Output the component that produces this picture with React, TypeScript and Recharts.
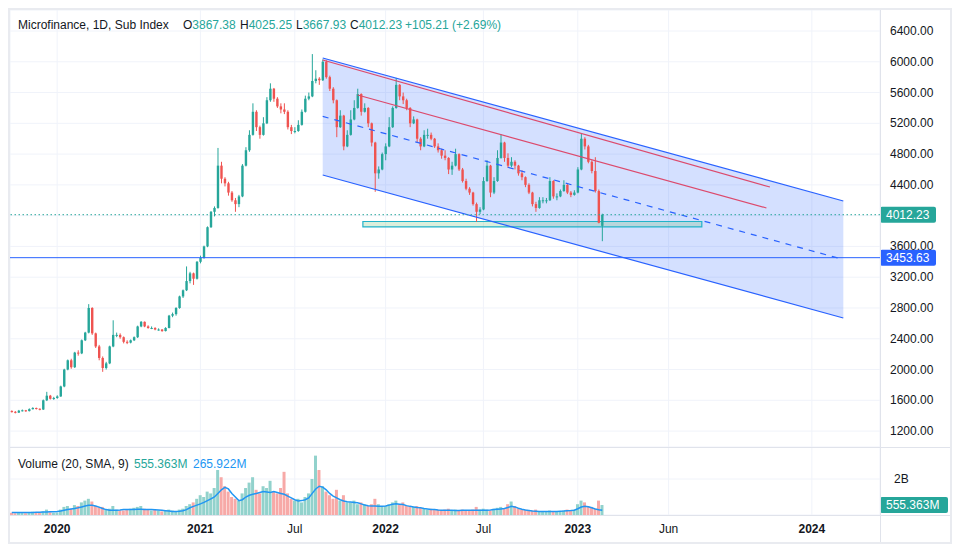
import React from 'react';
import {
  ComposedChart,
  Bar,
  Line,
  Area,
  XAxis,
  YAxis,
  CartesianGrid,
  ReferenceLine,
  ReferenceArea,
  Cell,
} from 'recharts';

const FONT = '"Liberation Sans", Arial, sans-serif';
const TEXT = '#131722';
const UP = '#26a69a';
const DOWN = '#ef5350';
const UP_VOL = '#92d2cc';
const DOWN_VOL = '#f7a9a7';
const GRID = '#f0f3fa';
const BLUE = '#2962ff';
const PINK = '#dc4a6d';

// one candle ~ 4 sessions: [open, high, low, close]
const candles: [number, number, number, number][] = [
  [1460, 1470, 1440, 1450], [1450, 1460, 1430, 1440], [1440, 1475, 1435, 1465], [1465, 1480, 1455, 1470], [1470, 1475, 1450, 1460],
  [1460, 1495, 1455, 1485], [1485, 1510, 1480, 1500], [1500, 1505, 1480, 1490], [1490, 1495, 1470, 1480], [1480, 1610, 1475, 1600],
  // 10
  [1600, 1710, 1590, 1660], [1660, 1670, 1610, 1620], [1620, 1645, 1605, 1630], [1630, 1665, 1620, 1650], [1650, 1790, 1645, 1780],
  [1780, 2010, 1770, 2000], [2000, 2130, 1990, 2120], [2120, 2140, 2010, 2030], [2030, 2230, 2020, 2220], [2220, 2250, 2180, 2210],
  // 20
  [2210, 2390, 2200, 2380], [2380, 2490, 2370, 2480], [2480, 2850, 2470, 2800], [2800, 2810, 2450, 2470], [2470, 2480, 2280, 2300],
  [2300, 2320, 2120, 2150], [2150, 2170, 1970, 2020], [2020, 2100, 2000, 2080], [2080, 2310, 2070, 2300], [2300, 2640, 2290, 2450],
  // 30
  [2450, 2480, 2420, 2450], [2450, 2470, 2400, 2420], [2420, 2430, 2340, 2360], [2360, 2380, 2330, 2350], [2350, 2390, 2340, 2380],
  [2380, 2430, 2370, 2420], [2420, 2570, 2410, 2560], [2560, 2630, 2550, 2620], [2620, 2625, 2550, 2560], [2560, 2575, 2530, 2540],
  // 40
  [2540, 2560, 2525, 2540], [2540, 2550, 2510, 2520], [2520, 2535, 2505, 2520], [2520, 2525, 2490, 2500], [2500, 2550, 2495, 2540],
  [2540, 2710, 2535, 2700], [2700, 2740, 2680, 2720], [2720, 2810, 2700, 2800], [2800, 2960, 2790, 2950], [2950, 3040, 2930, 3030],
  // 50
  [3030, 3340, 3020, 3150], [3150, 3270, 3120, 3250], [3250, 3260, 3100, 3180], [3180, 3410, 3170, 3400], [3400, 3480, 3380, 3450],
  [3450, 3610, 3440, 3600], [3600, 3860, 3590, 3850], [3850, 4060, 3840, 4050], [4050, 4120, 3990, 4100], [4100, 4880, 4090, 4650],
  // 60
  [4650, 4700, 4420, 4480], [4480, 4500, 4380, 4420], [4420, 4440, 4260, 4300], [4300, 4320, 4180, 4200], [4200, 4230, 4050, 4150],
  [4150, 4270, 4110, 4250], [4250, 4670, 4240, 4650], [4650, 4890, 4640, 4850], [4850, 5110, 4830, 5050], [5050, 5460, 5040, 5350],
  // 70
  [5350, 5370, 5100, 5150], [5150, 5170, 5000, 5050], [5050, 5280, 5040, 5200], [5200, 5540, 5190, 5500], [5500, 5720, 5480, 5650],
  [5650, 5660, 5480, 5520], [5520, 5540, 5400, 5420], [5420, 5460, 5330, 5380], [5380, 5460, 5320, 5350], [5350, 5370, 5120, 5150],
  // 80
  [5150, 5180, 5060, 5100], [5100, 5150, 5070, 5100], [5100, 5240, 5090, 5180], [5180, 5380, 5170, 5350], [5350, 5560, 5340, 5520],
  [5520, 5600, 5500, 5550], [5550, 6100, 5540, 5750], [5750, 5890, 5720, 5780], [5780, 5800, 5700, 5760], [5760, 6030, 5750, 6000],
  // 90
  [6000, 6020, 5780, 5800], [5800, 5820, 5620, 5650], [5650, 5670, 5460, 5500], [5500, 5510, 5020, 5150], [5150, 5370, 5140, 5300],
  [5300, 5310, 4850, 4900], [4900, 5110, 4890, 5050], [5050, 5370, 5040, 5250], [5250, 5500, 5240, 5400], [5400, 5650, 5390, 5580],
  // 100
  [5580, 5590, 5300, 5350], [5350, 5460, 5340, 5400], [5400, 5410, 5150, 5200], [5200, 5210, 4900, 4950], [4950, 4960, 4310, 4550],
  [4550, 4640, 4480, 4600], [4600, 4820, 4590, 4800], [4800, 4940, 4720, 4900], [4900, 5280, 4890, 5150], [5150, 5420, 5140, 5400],
  // 110
  [5400, 5790, 5390, 5700], [5700, 5710, 5500, 5550], [5550, 5600, 5450, 5500], [5500, 5520, 5370, 5400], [5400, 5410, 5150, 5200],
  [5200, 5290, 5190, 5250], [5250, 5260, 4950, 5000], [5000, 5020, 4850, 4900], [4900, 5110, 4890, 5050], [5050, 5130, 5000, 5050],
  // 120
  [5050, 5080, 4980, 5000], [5000, 5010, 4880, 4900], [4900, 4940, 4820, 4850], [4850, 4870, 4740, 4780], [4780, 4850, 4720, 4750],
  [4750, 4760, 4540, 4600], [4600, 4700, 4530, 4650], [4650, 4870, 4640, 4800], [4800, 4810, 4580, 4600], [4600, 4620, 4430, 4450],
  // 130
  [4450, 4480, 4330, 4350], [4350, 4370, 4270, 4300], [4300, 4310, 4130, 4150], [4150, 4170, 3920, 4050], [4050, 4110, 4020, 4080],
  [4080, 4500, 4070, 4450], [4450, 4720, 4440, 4650], [4650, 4660, 4240, 4300], [4300, 4500, 4280, 4450], [4450, 4850, 4440, 4750],
  // 140
  [4750, 5060, 4740, 4950], [4950, 4960, 4700, 4750], [4750, 4810, 4620, 4650], [4650, 4760, 4630, 4700], [4700, 4720, 4600, 4650],
  [4650, 4660, 4520, 4550], [4550, 4590, 4460, 4500], [4500, 4510, 4370, 4400], [4400, 4420, 4280, 4300], [4300, 4310, 4120, 4150],
  // 150
  [4150, 4180, 4050, 4100], [4100, 4240, 4090, 4200], [4200, 4240, 4160, 4200], [4200, 4230, 4160, 4200], [4200, 4500, 4190, 4450],
  [4450, 4460, 4220, 4250], [4250, 4290, 4200, 4250], [4250, 4340, 4240, 4320], [4320, 4460, 4310, 4400], [4400, 4410, 4280, 4300],
  // 160
  [4300, 4320, 4240, 4270], [4270, 4330, 4260, 4300], [4300, 4630, 4290, 4600], [4600, 5070, 4590, 5000], [5000, 5020, 4860, 4900],
  [4900, 4920, 4680, 4700], [4700, 4720, 4550, 4580], [4580, 4760, 4300, 4320], [4320, 4340, 3900, 3907.02], [3867.38, 4025.25, 3667.93, 4012.23],
];

// volume per candle, billions
const volumes = [
  0.12, 0.1, 0.15, 0.12, 0.1, 0.14, 0.18, 0.12, 0.11, 0.2,
  0.3, 0.15, 0.12, 0.14, 0.3, 0.45, 0.5, 0.35, 0.55, 0.5,
  0.7, 0.8, 0.9, 0.75, 0.5, 0.45, 0.45, 0.3, 0.35, 0.5,
  0.3, 0.25, 0.25, 0.3, 0.35, 0.4, 0.45, 0.5, 0.35, 0.3,
  0.25, 0.3, 0.25, 0.2, 0.25, 0.3, 0.25, 0.2, 0.3, 0.35,
  0.5, 0.6, 0.7, 0.9, 1.1, 1.0, 1.3, 1.2, 1.5, 2.5,
  2.1, 1.6, 1.3, 1.0, 0.9, 0.8, 1.2, 1.5, 1.8, 2.1,
  1.4, 1.2, 1.6, 1.5, 1.9, 1.3, 1.2, 1.5, 2.4, 1.2,
  0.9, 0.8, 0.9, 0.7, 1.0, 1.2, 2.0, 3.3, 2.5, 1.6,
  1.3, 1.1, 0.9, 1.4, 0.8, 1.1, 0.7, 0.7, 0.8, 0.6,
  0.7, 0.6, 0.5, 0.6, 0.9, 0.6, 0.5, 0.5, 0.6, 0.7,
  0.8, 0.6, 0.7, 0.5, 0.5, 0.45, 0.5, 0.4, 0.35, 0.3,
  0.35, 0.3, 0.3, 0.28, 0.3, 0.35, 0.25, 0.3, 0.25, 0.3,
  0.28, 0.25, 0.3, 0.45, 0.3, 0.35, 0.3, 0.25, 0.35, 0.4,
  0.45, 0.35, 0.6, 0.75, 0.5, 0.35, 0.3, 0.3, 0.25, 0.25,
  0.3, 0.2, 0.18, 0.2, 0.25, 0.2, 0.18, 0.2, 0.25, 0.3,
  0.25, 0.3, 0.6, 0.8, 0.7, 0.5, 0.45, 0.35, 0.8, 0.555,
];

// SMA(20) of volume, billions
const volumeSma = [
  0.14, 0.14, 0.14, 0.14, 0.14, 0.14, 0.14, 0.15, 0.15, 0.16,
  0.17, 0.18, 0.18, 0.19, 0.22, 0.26, 0.3, 0.33, 0.36, 0.4,
  0.45, 0.5, 0.54, 0.54, 0.5, 0.44, 0.36, 0.3, 0.27, 0.26,
  0.27, 0.28, 0.3, 0.3, 0.31, 0.31, 0.32, 0.32, 0.31, 0.3,
  0.3, 0.29, 0.28, 0.26, 0.24, 0.22, 0.2, 0.2, 0.21, 0.24,
  0.3, 0.4, 0.48, 0.55, 0.62, 0.7, 0.8, 0.9, 1.0, 1.2,
  1.4, 1.54, 1.45, 1.2, 1.0, 0.8, 0.85, 1.0, 1.1, 1.15,
  1.2, 1.25, 1.3, 1.28, 1.25, 1.3, 1.25, 1.2, 1.15, 1.05,
  0.95, 0.85, 0.78, 0.8, 0.85, 0.95, 1.2, 1.45, 1.6, 1.55,
  1.4, 1.2, 1.05, 0.95, 0.85, 0.78, 0.74, 0.72, 0.7, 0.68,
  0.62, 0.56, 0.52, 0.5, 0.5, 0.48, 0.48, 0.5, 0.55, 0.6,
  0.62, 0.6, 0.58, 0.52, 0.48, 0.45, 0.42, 0.4, 0.36, 0.33,
  0.3, 0.3, 0.28, 0.27, 0.26, 0.26, 0.26, 0.25, 0.25, 0.26,
  0.26, 0.26, 0.27, 0.27, 0.26, 0.26, 0.27, 0.28, 0.3, 0.32,
  0.34, 0.36, 0.42, 0.48, 0.45, 0.38, 0.32, 0.28, 0.25, 0.22,
  0.21, 0.2, 0.2, 0.2, 0.2, 0.2, 0.2, 0.21, 0.22, 0.24,
  0.25, 0.27, 0.35, 0.44, 0.48, 0.46, 0.4, 0.33, 0.29, 0.266,
];

// time scale: candle slots incl. empty future space
const SLOTS = 249;
const timeTicks = [13, 54, 81, 107, 135, 162, 188, 229];
const timeLabels = ['2020', '2021', 'Jul', '2022', 'Jul', '2023', 'Jun', '2024'];
const yearLabels = ['2020', '2021', '2022', '2023', '2024'];

const priceTicks = [1200, 1600, 2000, 2400, 2800, 3200, 3600, 4000, 4400, 4800, 5200, 5600, 6000, 6400];
const priceDomain = [993, 6673];
const volumeTicks = [2e9];
const volumeDomain = [0, 3.78e9];

// drawings
const channelX = [89, 238];
const channelUpper = [6049, 4190];
const channelLower = [4528, 2670];
const channelMid = [5290, 3430];
const redUpperX = [89, 217];
const redUpper = [6023, 4372];
const redLowerX = [99, 216];
const redLower = [5568, 4100];
const zoneX = [101, 197];
const zoneY = [3853, 3924];
const lastPrice = 4012.23;
const hLine = 3453.63;
const lastVolume = 555.363e6;

const rows = Array.from({ length: SLOTS }, (_, i) => {
  const row: any = { i };
  const k = candles[i];
  if (k) {
    row.o = k[0];
    row.h = k[1];
    row.l = k[2];
    row.c = k[3];
    row.vol = volumes[i] * 1e9;
    row.sma = volumeSma[i] * 1e9;
  }
  const ci = channelX.indexOf(i);
  if (ci >= 0) row.chan = [channelLower[ci], channelUpper[ci]];
  return row;
});

const Candle = (props: any) => {
  const { x, y, width, height, payload } = props;
  if (!payload || payload.o == null) return null;
  const { o, h, l, c } = payload;
  const top = Math.min(y, y + height);
  const bot = Math.max(y, y + height);
  const span = h - l || 1;
  const py = (v: number) => top + ((h - v) / span) * (bot - top);
  const cx = x + width / 2;
  const color = c >= o ? UP : DOWN;
  const b1 = py(Math.max(o, c));
  const b2 = py(Math.min(o, c));
  return (
    <g>
      <line x1={cx} x2={cx} y1={top} y2={bot} stroke={color} strokeWidth={1} />
      <rect x={cx - 1.2} y={b1} width={2.4} height={Math.max(1, b2 - b1)} fill={color} />
    </g>
  );
};

const PriceTick = ({ y, payload }: any) => {
  if (payload.value === 4000) return null;
  return (
    <text x={880} y={y} dy={4} fill={TEXT} fontSize={12} fontFamily={FONT}>
      {payload.value.toFixed(2)}
    </text>
  );
};

const VolumeTick = ({ y }: any) => (
  <text x={884} y={y} dy={4} fill={TEXT} fontSize={12} fontFamily={FONT}>
    2B
  </text>
);

const TimeTick = ({ x, payload }: any) => {
  const label = timeLabels[timeTicks.indexOf(payload.value)];
  return (
    <text
      x={x}
      y={86}
      textAnchor="middle"
      fill={TEXT}
      fontSize={12}
      fontWeight={yearLabels.includes(label) ? 700 : 400}
      fontFamily={FONT}
    >
      {label}
    </text>
  );
};

const Badge = (props: any) => {
  const { viewBox, text, color, w = 56 } = props;
  if (!viewBox) return null;
  const x = viewBox.x + viewBox.width;
  const y = viewBox.y;
  return (
    <g>
      <rect x={x} y={y - 8} width={w} height={16} rx={2} fill={color} />
      <text x={x + 6} y={y + 4} fill="#fff" fontSize={12} fontFamily={FONT}>
        {text}
      </text>
    </g>
  );
};

const green = { color: UP };

export default function App() {
  return (
    <div
      style={{
        position: 'relative',
        width: 940,
        height: 532,
        border: '2px solid #e9ebf0',
        background: '#fff',
        fontFamily: FONT,
        color: TEXT,
      }}
    >
      <ComposedChart width={940} height={437} data={rows} margin={{ top: 0, right: 0, bottom: 0, left: 0 }}>
        <CartesianGrid stroke={GRID} />
        <XAxis dataKey="i" type="category" hide ticks={timeTicks} interval={0} />
        <YAxis
          orientation="right"
          width={70}
          type="number"
          domain={priceDomain}
          allowDataOverflow
          ticks={priceTicks}
          tick={<PriceTick />}
          tickLine={false}
          axisLine={false}
        />
        <Area
          dataKey="chan"
          type="linear"
          connectNulls
          fill={BLUE}
          fillOpacity={0.2}
          stroke="none"
          dot={false}
          activeDot={false}
          isAnimationActive={false}
        />
        <ReferenceArea
          x1={zoneX[0]}
          x2={zoneX[1]}
          y1={zoneY[0]}
          y2={zoneY[1]}
          fill="#4caf50"
          fillOpacity={0.2}
          stroke="#22b3c9"
          strokeWidth={1.2}
        />
        <Bar
          dataKey={(d: any) => (d.o != null ? [d.l, d.h] : null)}
          shape={<Candle />}
          isAnimationActive={false}
        />
        <ReferenceLine
          segment={[{ x: channelX[0], y: channelUpper[0] }, { x: channelX[1], y: channelUpper[1] }]}
          stroke={BLUE}
          strokeWidth={1.2}
        />
        <ReferenceLine
          segment={[{ x: channelX[0], y: channelLower[0] }, { x: channelX[1], y: channelLower[1] }]}
          stroke={BLUE}
          strokeWidth={1.2}
        />
        <ReferenceLine
          segment={[{ x: channelX[0], y: channelMid[0] }, { x: channelX[1], y: channelMid[1] }]}
          stroke={BLUE}
          strokeWidth={1.2}
          strokeDasharray="6 6"
        />
        <ReferenceLine
          segment={[{ x: redUpperX[0], y: redUpper[0] }, { x: redUpperX[1], y: redUpper[1] }]}
          stroke={PINK}
          strokeWidth={1.2}
        />
        <ReferenceLine
          segment={[{ x: redLowerX[0], y: redLower[0] }, { x: redLowerX[1], y: redLower[1] }]}
          stroke={PINK}
          strokeWidth={1.2}
        />
        <ReferenceLine
          y={lastPrice}
          stroke={UP}
          strokeDasharray="1.5 2.5"
          label={<Badge text="4012.23" color={UP} />}
        />
        <ReferenceLine y={hLine} stroke={BLUE} strokeWidth={1} label={<Badge text="3453.63" color={BLUE} />} />
      </ComposedChart>

      <ComposedChart width={940} height={95} data={rows} margin={{ top: 0, right: 0, bottom: 0, left: 0 }}>
        <CartesianGrid stroke={GRID} />
        <XAxis
          dataKey="i"
          type="category"
          height={27}
          ticks={timeTicks}
          interval={0}
          tick={<TimeTick />}
          tickLine={false}
          axisLine={false}
        />
        <YAxis
          orientation="right"
          width={70}
          type="number"
          domain={volumeDomain}
          allowDataOverflow
          ticks={volumeTicks}
          tick={<VolumeTick />}
          tickLine={false}
          axisLine={false}
        />
        <Bar dataKey="vol" barSize={3} isAnimationActive={false}>
          {rows.map((r, idx) => (
            <Cell key={idx} fill={r.c != null && r.c >= r.o ? UP_VOL : DOWN_VOL} />
          ))}
        </Bar>
        <Line dataKey="sma" stroke="#2196f3" strokeWidth={1.5} dot={false} activeDot={false} isAnimationActive={false} />
        <ReferenceLine
          y={lastVolume}
          stroke="none"
          label={<Badge text="555.363M" color={UP} w={68} />}
        />
      </ComposedChart>

      {/* pane separators */}
      <div style={{ position: 'absolute', left: 870, top: 0, width: 1, height: 532, background: '#e0e3eb' }} />
      <div style={{ position: 'absolute', left: 0, top: 437, width: 940, height: 1, background: '#e0e3eb' }} />
      <div style={{ position: 'absolute', left: 0, top: 505, width: 940, height: 1, background: '#e0e3eb' }} />

      {/* header legend */}
      <div style={{ position: 'absolute', top: 8, left: 0, fontSize: 12, lineHeight: '14px', whiteSpace: 'nowrap' }}>
        <span style={{ position: 'absolute', left: 8 }}>Microfinance, 1D, Sub Index</span>
        <span style={{ position: 'absolute', left: 173 }}>O<span style={green}>3867.38</span></span>
        <span style={{ position: 'absolute', left: 230 }}>H<span style={green}>4025.25</span></span>
        <span style={{ position: 'absolute', left: 286 }}>L<span style={green}>3667.93</span></span>
        <span style={{ position: 'absolute', left: 340 }}>C<span style={green}>4012.23</span></span>
        <span style={{ position: 'absolute', left: 395, color: UP }}>+105.21 (+2.69%)</span>
      </div>

      {/* volume legend */}
      <div style={{ position: 'absolute', top: 447, left: 0, fontSize: 12, lineHeight: '14px', whiteSpace: 'nowrap' }}>
        <span style={{ position: 'absolute', left: 8 }}>Volume (20, SMA, 9)</span>
        <span style={{ position: 'absolute', left: 124, color: UP }}>555.363M</span>
        <span style={{ position: 'absolute', left: 183, color: '#2196f3' }}>265.922M</span>
      </div>
    </div>
  );
}
